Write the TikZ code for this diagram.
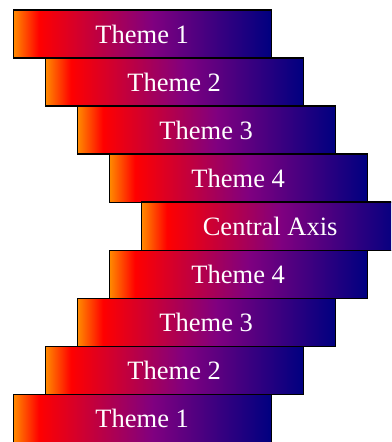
\documentclass[tikz,border=0pt]{standalone}
\usepackage{fontspec}
\setmainfont{Liberation Serif}
\definecolor{gOrange}{RGB}{255,140,0}
\definecolor{gRed}{RGB}{255,0,0}
\definecolor{gPurple}{RGB}{128,0,128}
\definecolor{gNavy}{RGB}{0,0,128}
\pgfdeclarehorizontalshading{themegrad}{100bp}{color(0bp)=(gOrange); color(25bp)=(gOrange); color(30bp)=(gRed); color(52bp)=(gPurple); color(75bp)=(gNavy); color(100bp)=(gNavy)}
\tikzset{
  themebox/.style={draw=black, line width=1.3bp, shading=themegrad, minimum width=258bp, minimum height=48bp, inner sep=0pt, anchor=north west, text=white, font=\fontsize{26.5bp}{30bp}\selectfont}
}
\begin{document}
\begin{tikzpicture}[x=1bp,y=-1bp]
\useasboundingbox (0,0) rectangle (391,442);
\clip (0,0) rectangle (391,442);
\node[themebox] (t1a) at (12.5,9.5) {Theme 1};
\node[themebox] (t2a) at (44.5,57.5) {Theme 2};
\node[themebox] (t3a) at (76.5,105.5) {Theme 3};
\node[themebox] (t4a) at (108.5,153.5) {Theme 4};
\node[themebox] (ca) at (140.5,201.5) {Central Axis};
\node[themebox] (t4b) at (108.5,249.5) {Theme 4};
\node[themebox] (t3b) at (76.5,297.5) {Theme 3};
\node[themebox] (t2b) at (44.5,345.5) {Theme 2};
\node[themebox] (t1b) at (12.5,393.5) {Theme 1};
\end{tikzpicture}
\end{document}
